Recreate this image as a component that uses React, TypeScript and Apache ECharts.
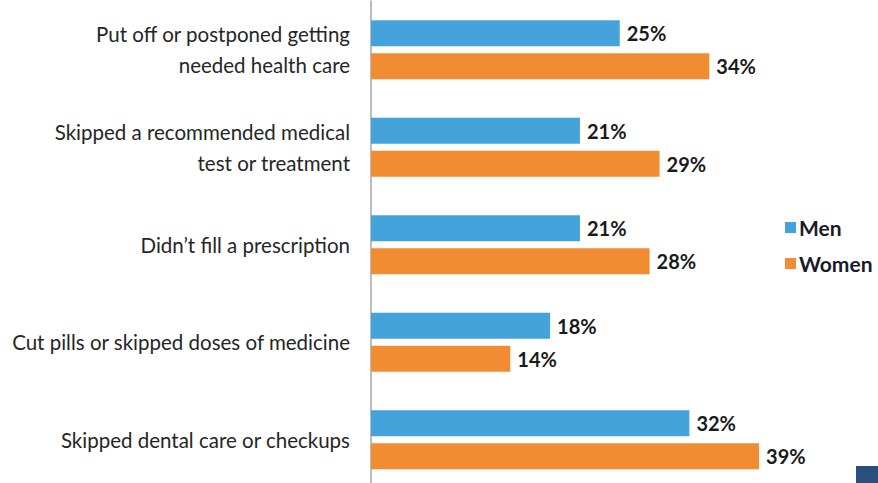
import React, { useEffect, useRef } from "react";
import * as echarts from "echarts";

const categories = [
  "Put off or postponed getting\nneeded health care",
  "Skipped a recommended medical\ntest or treatment",
  "Didn’t fill a prescription",
  "Cut pills or skipped doses of medicine",
  "Skipped dental care or checkups",
];
const men = [25, 21, 21, 18, 32];
const women = [34, 29, 28, 14, 39];
const seriesNames = ["Men", "Women"];

export default function App() {
  const ref = useRef<HTMLDivElement>(null);
  useEffect(() => {
    if (!ref.current) return;
    const chart = echarts.init(ref.current, null, { renderer: "svg" });
    const font = "Lato";
    const valueLabel = {
      show: true,
      position: "right",
      distance: 7,
      formatter: "{c}%",
      fontFamily: font,
      fontSize: 20,
      fontWeight: "bold",
      color: "#1a1a1a",
    };
    chart.setOption({
      animation: false,
      backgroundColor: "#ffffff",
      color: ["#45a3dc", "#f28c33"],
      grid: { left: 371, top: 1, width: 497.5, height: 487.5, containLabel: false, outerBoundsMode: "none" },
      legend: {
        orient: "vertical",
        left: 780,
        top: 212,
        itemWidth: 11,
        itemHeight: 11,
        itemGap: 15,
        icon: "rect",
        data: seriesNames,
        textStyle: { fontFamily: font, fontSize: 21, fontWeight: "bold", color: "#1a1a2a", padding: [0, 0, 0, -2] },
      },
      xAxis: {
        type: "value",
        min: 0,
        max: 50,
        show: false,
        splitLine: { show: false },
      },
      yAxis: {
        type: "category",
        data: categories,
        inverse: true,
        axisLine: { show: true, lineStyle: { color: "#a6a6a6", width: 1.5 } },
        axisTick: { show: false },
        axisLabel: {
          margin: 21,
          fontFamily: font,
          fontSize: 20.5,
          color: "#262626",
          lineHeight: 31,
          align: "right",
        },
      },
      series: [
        {
          name: seriesNames[0],
          type: "bar",
          data: men,
          barWidth: 26,
          barGap: "27%",
          label: valueLabel,
        },
        {
          name: seriesNames[1],
          type: "bar",
          data: women,
          barWidth: 26,
          label: valueLabel,
        },
      ],
      graphic: [
        {
          type: "rect",
          right: 0,
          bottom: 0,
          shape: { width: 22, height: 17 },
          style: { fill: "#2a4f7c" },
        },
      ],
    });
    return () => chart.dispose();
  }, []);
  return <div ref={ref} style={{ width: 878, height: 483, position: "absolute", left: 0, top: 0 }} />;
}
